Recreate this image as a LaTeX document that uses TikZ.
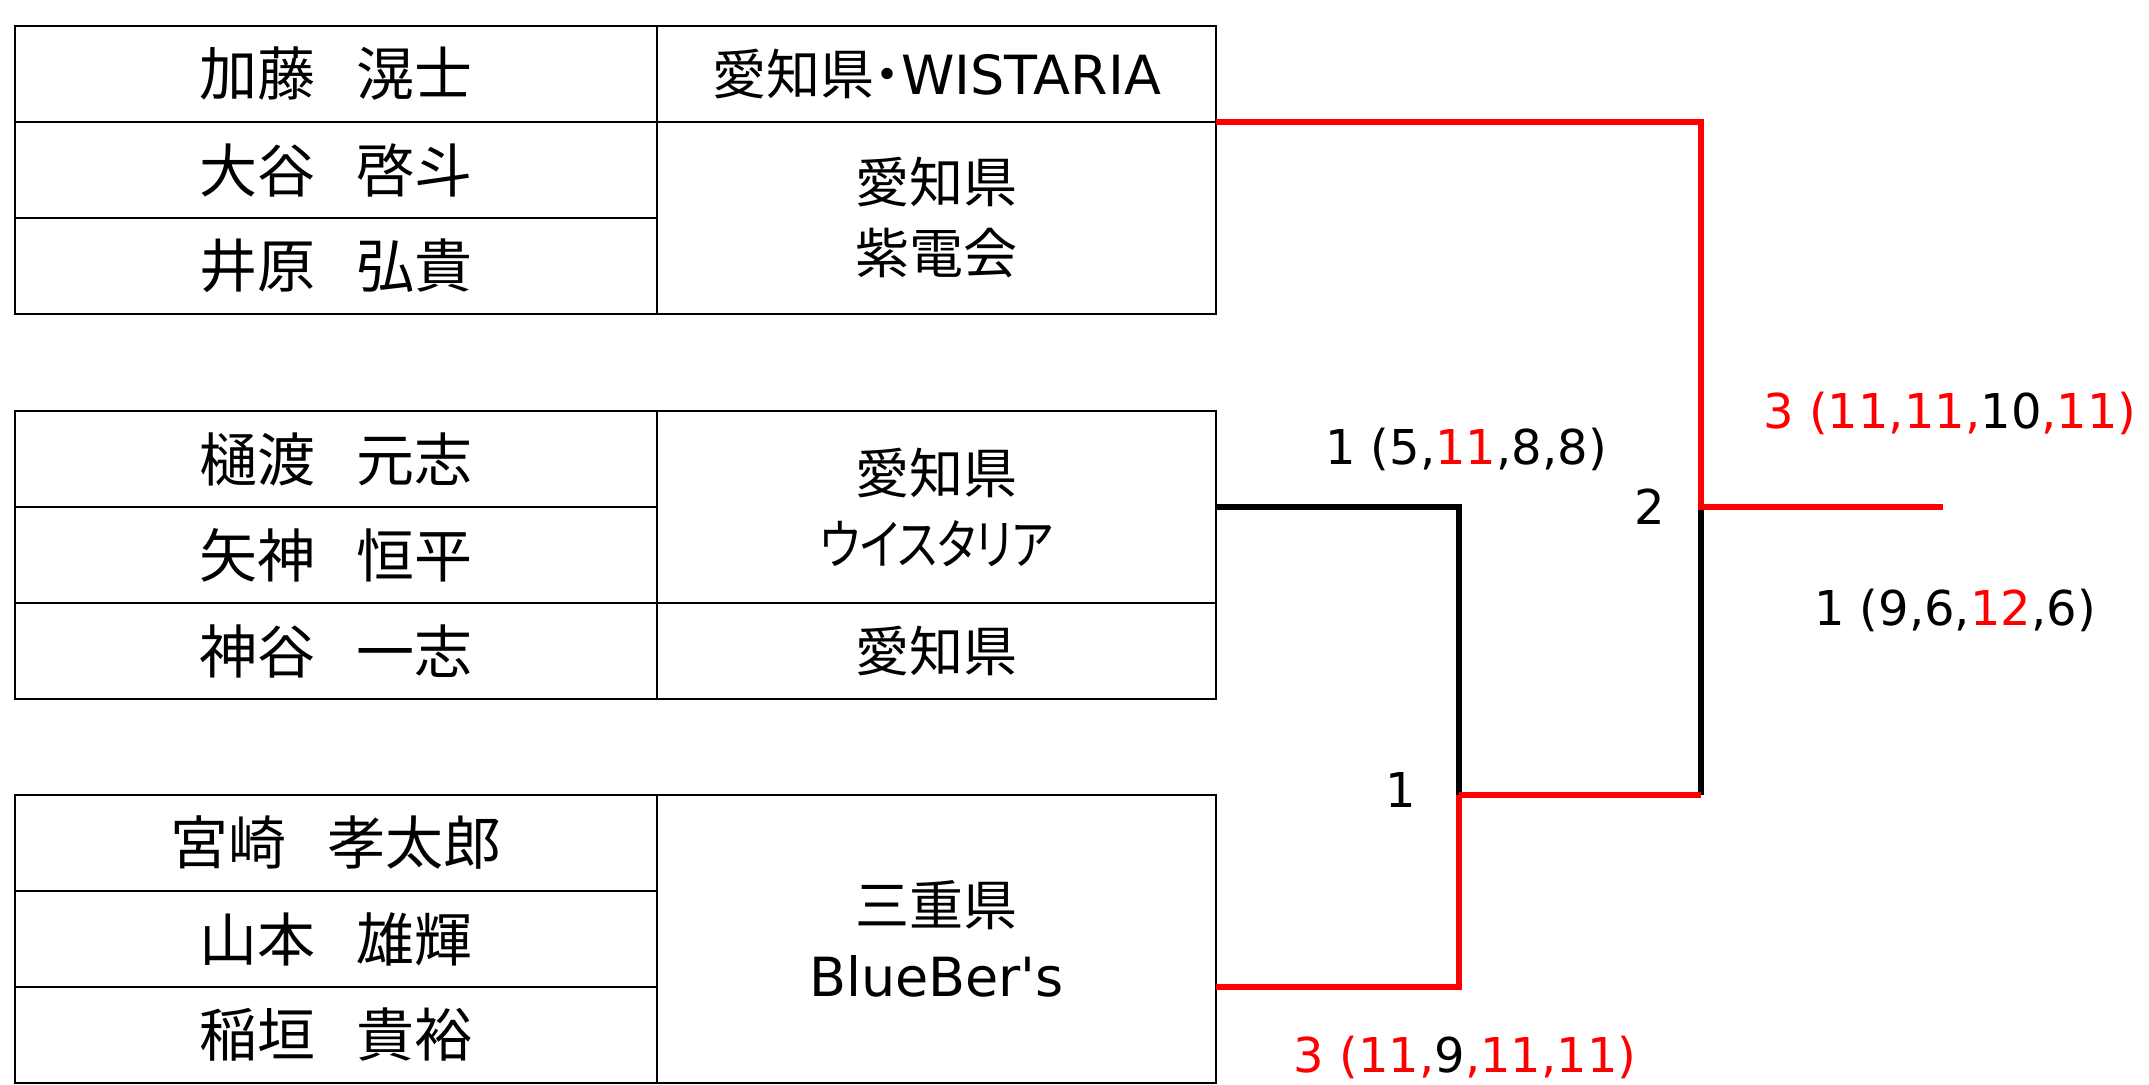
\documentclass[tikz,border=0pt]{standalone}
\usepackage{fontspec}
\setmainfont{DejaVu Sans}
\newfontfamily\jpfont{Noto Sans CJK JP}
\newfontfamily\jppfont[RawFeature=+palt]{Noto Sans CJK JP}
\usetikzlibrary{calc}

\begin{document}
\begin{tikzpicture}[x=0.5pt, y=-0.5pt,
every node/.style = {inner sep=0pt, outer sep=0pt},
player/.style = {shape=rectangle, draw, line width=1pt, anchor=north west,
    minimum width=321pt, minimum height=48pt, align=center,
    font=\jpfont\fontsize{29}{35.5}\selectfont},
team/.style = {player, minimum width=279.5pt,
    font=\jppfont\fontsize{27}{35.5}\selectfont},
score/.style = {font=\fontsize{24}{29}\selectfont},
won/.style = {draw=red, line width=2.75pt},
lost/.style = {draw=black, line width=2.75pt}]
\useasboundingbox (0,0) rectangle (2149,1085);

% table 1
\node[player] (kato) at (15,26) {加藤\hspace{0.72em}滉士};
\node[player] (otani) at (15,122) {大谷\hspace{0.72em}啓斗};
\node[player] (ihara) at (15,218) {井原\hspace{0.72em}弘貴};
\node[team] (wistaria) at (657,26) {愛知県・{\rmfamily WISTARIA}};
\node[team, minimum height=96pt] (shiden) at (657,122) {愛知県\\紫電会};

% table 2
\node[player] (hiwatari) at (15,411) {樋渡\hspace{0.72em}元志};
\node[player] (yagami) at (15,507) {矢神\hspace{0.72em}恒平};
\node[player] (kamiya) at (15,603) {神谷\hspace{0.72em}一志};
\node[team, minimum height=96pt] (uisutaria) at (657,411) {愛知県\\\scalebox{0.82}[1]{ウイスタリア}};
\node[team] (aichi) at (657,603) {愛知県};

% table 3
\node[player] (miyazaki) at (15,795) {宮崎\hspace{0.72em}孝太郎};
\node[player] (yamamoto) at (15,891) {山本\hspace{0.72em}雄輝};
\node[player] (inagaki) at (15,987) {稲垣\hspace{0.72em}貴裕};
\node[team, minimum height=144pt] (blueber) at (657,795) {三重県\\{\rmfamily BlueBer\textquotesingle s}};

% bracket
\coordinate (m1) at (1459,795);
\coordinate (m2) at (1701,507);
\coordinate (final) at (1943,507);
\draw[lost] (uisutaria.east) -| (m1);
\draw[lost] (m2) -- (m2 |- m1);
\draw[won] (wistaria.south east) -| (m2) -- (final);
\draw[won] (m1) -- (m2 |- m1);
\draw[won] (m1) |- (inagaki.north -| blueber.east);

% scores
\node[score] (s1a) at (1466,449) {1 (5,\textcolor{red}{11},8,8)};
\node[score] (s1b) at (1465,1057) {\textcolor{red}{3 (11,}9\textcolor{red}{,11,11)}};
\node[score] (r1) at (1401,790) {1};
\node[score] (r2) at (1650,507) {2};
\node[score] (s2a) at (1950,413) {\textcolor{red}{3 (11,11,}10\textcolor{red}{,11)}};
\node[score] (s2b) at (1955,610) {1 (9,6,\textcolor{red}{12},6)};
\end{tikzpicture}
\end{document}
